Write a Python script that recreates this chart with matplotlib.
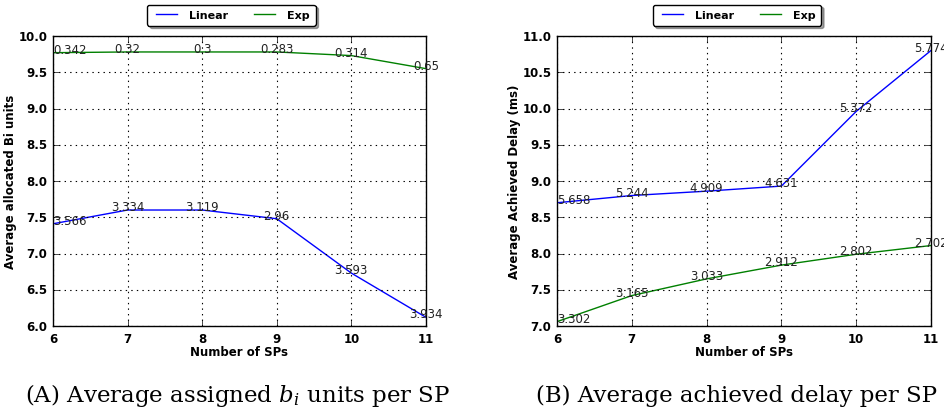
#!/usr/bin/env python
# coding=utf-8

import matplotlib
matplotlib.use('Agg')
import matplotlib.pyplot as plt

plt.style.use('classic')
plt.rcParams['mathtext.fontset'] = 'dejavuserif'

n_sps = [6, 7, 8, 9, 10, 11]

# (A) average allocated Bi units
alloc_linear = [7.41, 7.60, 7.60, 7.48, 6.73, 6.12]
alloc_exp = [9.77, 9.78, 9.78, 9.78, 9.73, 9.55]
alloc_linear_lbl = ['3.566', '3.334', '3.119', '2.96', '3.593', '3.934']
alloc_exp_lbl = ['0.342', '0.32', '0.3', '0.283', '0.314', '0.65']

# (B) average achieved delay
delay_linear = [8.70, 8.80, 8.86, 8.93, 9.96, 10.80]
delay_exp = [7.06, 7.42, 7.65, 7.84, 7.99, 8.11]
delay_linear_lbl = ['5.658', '5.244', '4.909', '4.631', '5.372', '5.774']
delay_exp_lbl = ['3.302', '3.165', '3.033', '2.912', '2.802', '2.702']

fig = plt.figure(figsize=(9.44, 4.14), dpi=100, facecolor='white')


def annotate(ax, xs, ys, labels):
    for i, (x, y, s) in enumerate(zip(xs, ys, labels)):
        ha = 'left' if i == 0 else 'center'
        ax.text(x, y, s, fontsize=8.5, ha=ha, va='baseline', color='#222222',
                clip_on=False)


def make_panel(rect, lin, exp, lin_lbl, exp_lbl, ylim, ylabel, leg_x, caption, cap_x):
    ax = fig.add_axes(rect)
    ax.plot(n_sps, lin, color='b', lw=1, label='Linear')
    ax.plot(n_sps, exp, color='g', lw=1, label='Exp')
    annotate(ax, n_sps, lin, lin_lbl)
    annotate(ax, n_sps, exp, exp_lbl)
    ax.set_xlim(6, 11)
    ax.set_ylim(*ylim)
    ax.grid(True, color='k', linestyle=':', linewidth=0.8)
    ax.set_xlabel('Number of SPs', fontsize=8.5, fontweight='bold', labelpad=0)
    ax.set_ylabel(ylabel, fontsize=8.5, fontweight='bold', labelpad=1)
    for lbl in ax.get_xticklabels() + ax.get_yticklabels():
        lbl.set_fontsize(8.5)
        lbl.set_fontweight('bold')
    ax.yaxis.set_major_formatter(matplotlib.ticker.FormatStrFormatter('%.1f'))
    ax.legend(loc='center', bbox_to_anchor=(leg_x, 0.961),
              bbox_transform=fig.transFigure, ncol=2, fancybox=True,
              shadow=True, prop={'size': 8, 'weight': 'bold'},
              handlelength=2.5, columnspacing=2.0, borderpad=0.5)
    fig.text(cap_x, 0.029, caption, fontsize=16.5, ha='center', va='baseline',
             family='DejaVu Serif')
    return ax


make_panel([0.0561, 0.2101, 0.3951, 0.7005], alloc_linear, alloc_exp,
           alloc_linear_lbl, alloc_exp_lbl, (6.0, 10.0),
           'Average allocated Bi units', 0.2452,
           r'(A) Average assigned $b_i$ units per SP', 0.2516)
make_panel([0.5900, 0.2101, 0.3962, 0.7005], delay_linear, delay_exp,
           delay_linear_lbl, delay_exp_lbl, (7.0, 11.0),
           'Average Achieved Delay (ms)', 0.7807,
           '(B) Average achieved delay per SP', 0.7807)

fig.savefig('out.png', dpi=100, facecolor='white')
